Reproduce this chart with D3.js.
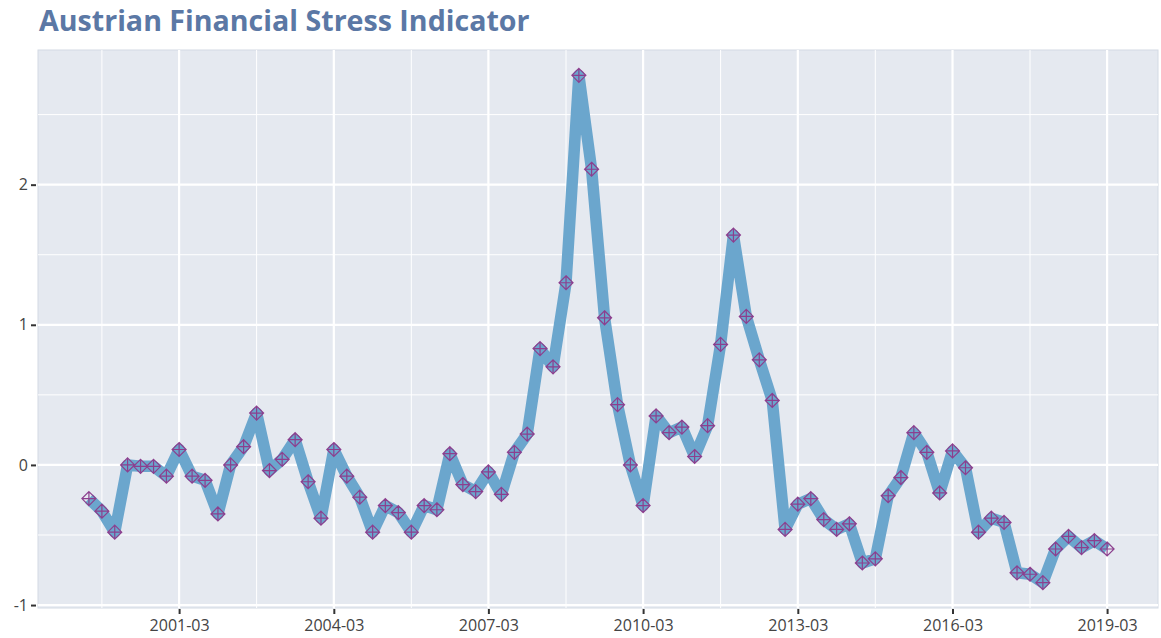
<!DOCTYPE html>
<html>
<head>
<meta charset="utf-8">
<script src="https://cdn.jsdelivr.net/npm/d3@7"></script>
<style>
  body { margin: 0; background: #fff; }
  svg { display: block; }
  .tick text { font-family: "Open Sans", "Noto Sans", sans-serif; }
</style>
</head>
<body>
<svg id="chart" width="1161" height="638"></svg>
<script>
// quarterly values, 1999-06 .. 2019-03
let firstQuarter = "1999-06";
let stressValues = [
  -0.24, -0.33, -0.48, 0.00, -0.01, -0.01, -0.08, 0.11,
  -0.08, -0.11, -0.35, 0.00, 0.13, 0.37, -0.04, 0.04,
  0.18, -0.12, -0.38, 0.11, -0.08, -0.23, -0.48, -0.29,
  -0.34, -0.48, -0.29, -0.32, 0.08, -0.14, -0.19, -0.05,
  -0.21, 0.09, 0.22, 0.83, 0.70, 1.30, 2.78, 2.11,
  1.05, 0.43, 0.00, -0.29, 0.35, 0.23, 0.27, 0.06,
  0.28, 0.86, 1.64, 1.06, 0.75, 0.46, -0.46, -0.28,
  -0.24, -0.39, -0.46, -0.42, -0.70, -0.67, -0.22, -0.09,
  0.23, 0.09, -0.20, 0.10, -0.02, -0.48, -0.38, -0.41,
  -0.77, -0.78, -0.84, -0.60, -0.51, -0.59, -0.54, -0.60
];
let xTickLabels = ["2001-03", "2004-03", "2007-03", "2010-03", "2013-03", "2016-03", "2019-03"];
let yTicks = [-1, 0, 1, 2];
let yMinor = [-0.5, 0.5, 1.5, 2.5];

let parseQ = d3.utcParse("%Y-%m");
let start = parseQ(firstQuarter);
let data = stressValues.map((v, i) => ({date: d3.utcMonth.offset(start, 3 * i), value: v}));

let svg = d3.select("#chart");
let pLeft = 38, pRight = 1158, pTop = 50, pBottom = 608;

// 5% padding on both axes, like the original
let t0 = +data[0].date, t1 = +data[data.length - 1].date;
let padT = (t1 - t0) * 0.05;
let x = d3.scaleUtc()
  .domain([new Date(t0 - padT), new Date(t1 + padT)])
  .range([pLeft, pRight]);

let vMin = d3.min(stressValues), vMax = d3.max(stressValues);
let padV = (vMax - vMin) * 0.05;
let y = d3.scaleLinear()
  .domain([vMin - padV, vMax + padV])
  .range([pBottom, pTop]);

svg.append("text")
  .attr("x", 39).attr("y", 31)
  .attr("font-family", "'Open Sans', sans-serif")
  .attr("font-weight", "bold")
  .attr("font-size", 28.6)
  .attr("fill", "#5b78a5")
  .text("Austrian Financial Stress Indicator");

svg.append("rect")
  .attr("x", pLeft).attr("y", pTop)
  .attr("width", pRight - pLeft).attr("height", pBottom - pTop)
  .attr("fill", "#e5e9f0")
  .attr("stroke", "#d3dae4");

let xMajor = xTickLabels.map(parseQ);
let xMinorTicks = [];
for (let i = 0; i <= xMajor.length; i++) {
  let a = i === 0 ? d3.utcMonth.offset(xMajor[0], -36) : xMajor[i - 1];
  let m = d3.utcMonth.offset(a, 18);
  if (x(m) > pLeft && x(m) < pRight) xMinorTicks.push(m);
}

let grid = svg.append("g");
grid.selectAll(".ymin").data(yMinor).enter().append("line")
  .attr("x1", pLeft).attr("x2", pRight)
  .attr("y1", d => y(d)).attr("y2", d => y(d))
  .attr("stroke", "#fff").attr("stroke-width", 1);
grid.selectAll(".xmin").data(xMinorTicks).enter().append("line")
  .attr("x1", d => x(d)).attr("x2", d => x(d))
  .attr("y1", pTop).attr("y2", pBottom)
  .attr("stroke", "#fff").attr("stroke-width", 1);
grid.selectAll(".ymaj").data(yTicks).enter().append("line")
  .attr("x1", pLeft).attr("x2", pRight)
  .attr("y1", d => y(d)).attr("y2", d => y(d))
  .attr("stroke", "#fff").attr("stroke-width", 2.2);
grid.selectAll(".xmaj").data(xMajor).enter().append("line")
  .attr("x1", d => x(d)).attr("x2", d => x(d))
  .attr("y1", pTop).attr("y2", pBottom)
  .attr("stroke", "#fff").attr("stroke-width", 2.2);

let xAxis = svg.append("g")
  .attr("transform", `translate(0,${pBottom + 1})`)
  .call(d3.axisBottom(x).tickValues(xMajor).tickFormat(d3.utcFormat("%Y-%m")).tickSize(5).tickPadding(6));
let yAxis = svg.append("g")
  .attr("transform", `translate(${pLeft - 2},0)`)
  .call(d3.axisLeft(y).tickValues(yTicks).tickFormat(d3.format("d")).tickSize(5).tickPadding(3));

[xAxis, yAxis].forEach(g => {
  g.select(".domain").remove();
  g.selectAll(".tick line").attr("stroke", "#333").attr("stroke-width", 2);
  g.selectAll(".tick text").attr("font-size", 16).attr("fill", "#444");
});
yAxis.selectAll(".tick text").text(d => d < 0 ? "-" + Math.abs(d) : d);

let line = d3.line().x(d => x(d.date)).y(d => y(d.value));
svg.append("path")
  .datum(data)
  .attr("d", line)
  .attr("fill", "none")
  .attr("stroke", "#6ba6cd")
  .attr("stroke-width", 11.5)
  .attr("stroke-linejoin", "round");

let r = 7;
let marker = `M0,${-r}L${r},0L0,${r}L${-r},0ZM0,${-r}V${r}M${-r},0H${r}`;
svg.append("g").selectAll("path")
  .data(data)
  .enter().append("path")
  .attr("transform", d => `translate(${x(d.date)},${y(d.value)})`)
  .attr("d", marker)
  .attr("fill", "none")
  .attr("stroke", "#8c3f8e")
  .attr("stroke-width", 1.2);
</script>
</body>
</html>
